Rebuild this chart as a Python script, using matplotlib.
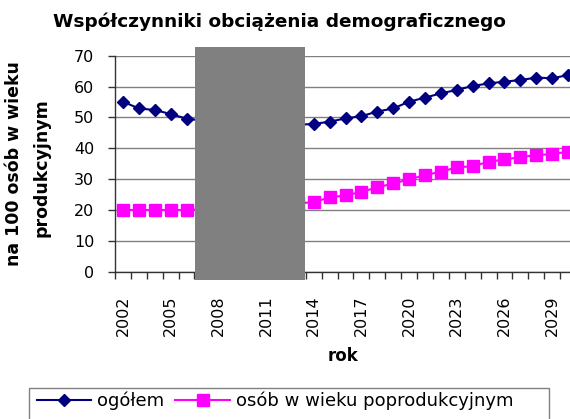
import matplotlib
matplotlib.use("Agg")
import matplotlib.pyplot as plt
from matplotlib.patches import Rectangle
from matplotlib.ticker import FixedLocator, NullFormatter

years = list(range(2002, 2031))
ogolem = [55.1, 52.9, 52.4, 51.1, 49.6, 49.0, 48.5, 48.1, 47.8, 47.6, 47.5, 47.6,
          47.9, 48.6, 49.7, 50.4, 51.9, 52.9, 55.1, 56.4, 57.8, 58.9, 60.2, 61.0,
          61.6, 62.1, 62.9, 62.7, 63.7]
poprod = [20.0, 20.0, 20.0, 20.0, 20.0, 20.2, 20.5, 20.8, 21.2, 21.5, 21.9, 22.2,
          22.5, 24.1, 24.7, 25.9, 27.3, 28.6, 29.9, 31.3, 32.4, 33.8, 34.2, 35.6,
          36.4, 37.1, 37.8, 38.1, 38.9]
yticks = [0, 10, 20, 30, 40, 50, 60, 70]
title = "Współczynniki obciążenia demograficznego"
ylabel1 = "na 100 osób w wieku"
ylabel2 = "produkcyjnym"
xlabel = "rok"
labels = ["ogółem", "osób w wieku poprodukcyjnym"]

W, H = 570, 419
fig = plt.figure(figsize=(W / 100, H / 100), dpi=100)
fig.patch.set_facecolor("white")

left, right, top, bottom = 115, 576, 55.7, 271.7
ax = fig.add_axes([left / W, (H - bottom) / H, (right - left) / W, (bottom - top) / H])

x = list(range(len(years)))
l1, = ax.plot(x, ogolem, color="#000080", lw=1.5, marker="D", ms=5.8, zorder=3)
l2, = ax.plot(x, poprod, color="#FF00FF", lw=1.5, marker="s", ms=9.3, zorder=3)

ax.set_xlim(-0.5, len(years) - 0.5)
ax.set_ylim(0, 70)
ax.set_yticks(yticks)
ax.yaxis.grid(True, color="#808080", lw=1)
ax.set_axisbelow(True)
for s in ["top", "right"]:
    ax.spines[s].set_visible(False)
for s in ["left", "bottom"]:
    ax.spines[s].set_color("#333333")
    ax.spines[s].set_linewidth(1)

major = [i for i, y in enumerate(years) if (y - 2002) % 3 == 0]
ax.set_xticks(major)
ax.set_xticklabels([str(years[i]) for i in major], rotation=90)
ax.xaxis.set_minor_locator(FixedLocator([i - 0.5 for i in range(len(years) + 1)]))
ax.xaxis.set_minor_formatter(NullFormatter())
ax.tick_params(axis="x", which="major", length=0, pad=17, labelsize=11.5)
ax.tick_params(axis="x", which="minor", length=5, width=1, color="#333333", direction="out")
ax.tick_params(axis="y", length=5, width=1, color="#333333", labelsize=11.5, pad=10)

fig.text(279 / W, 1 - 22 / H, title, ha="center", va="center",
         fontsize=13.3, fontweight="bold")
fig.text(14 / W, 1 - 164 / H, ylabel1, rotation=90, ha="center", va="center",
         fontsize=12.5, fontweight="bold")
fig.text(42 / W, 1 - 168 / H, ylabel2, rotation=90, ha="center", va="center",
         fontsize=12.5, fontweight="bold")
fig.text(343 / W, 1 - 356 / H, xlabel, ha="center", va="center",
         fontsize=12, fontweight="bold")

# grey redaction box
fig.patches.append(Rectangle((195 / W, (H - 280) / H), 110 / W, 233 / H,
                             transform=fig.transFigure, facecolor="#808080",
                             edgecolor="none", zorder=10))

# legend frame
fig.patches.append(Rectangle((29 / W, -10 / H), 520 / W, (H - 388 + 10) / H,
                             transform=fig.transFigure, facecolor="none",
                             edgecolor="#808080", lw=1, zorder=5))
fig.legend([l1, l2], labels, loc="center left", bbox_to_anchor=(37 / W, 1 - 401 / H),
           ncol=2, frameon=False, fontsize=13, handlelength=3.0, handletextpad=0.35,
           columnspacing=0.6, borderpad=0, borderaxespad=0)

fig.savefig("out.png", dpi=100)
